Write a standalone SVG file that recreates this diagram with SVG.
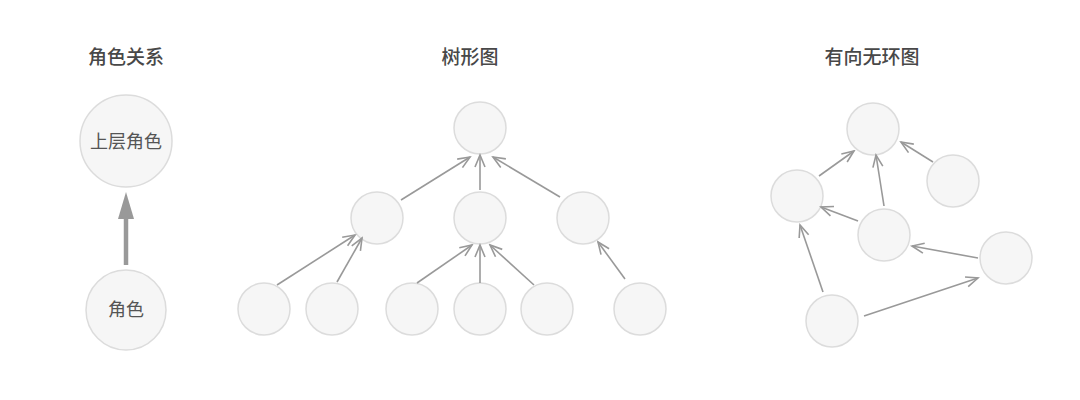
<svg xmlns="http://www.w3.org/2000/svg" width="1080" height="400" viewBox="0 0 1080 400">
<defs>
<style>
.title{font-family:"Noto Sans CJK SC","Noto Sans",sans-serif;font-size:19px;font-weight:500;fill:#484848;text-anchor:middle}
.lbl{font-family:"Noto Sans CJK SC","Noto Sans",sans-serif;font-size:18px;fill:#555;text-anchor:middle}
.n{fill:#f6f6f6;stroke:#dcdcdc;stroke-width:1.5}
.e{stroke:#999;stroke-width:1.6;fill:none;marker-end:url(#ah)}
</style>
<marker id="ah" viewBox="-14 -7 16 14" refX="0" refY="0" markerWidth="16" markerHeight="14" markerUnits="userSpaceOnUse" orient="auto">
<path d="M-12,-5 L0,0 L-12,5" fill="none" stroke="#999" stroke-width="1.6"/>
</marker>
</defs>
<rect width="1080" height="400" fill="#fff"/>
<text class="title" x="126" y="64">角色关系</text>
<text class="title" x="470" y="64">树形图</text>
<text class="title" x="872" y="64">有向无环图</text>

<g id="role-upper"><circle class="n" cx="126" cy="141" r="46"/><text class="lbl" x="126" y="148">上层角色</text></g>
<g id="role"><circle class="n" cx="126" cy="310" r="40"/><text class="lbl" x="126" y="316">角色</text></g>

<g id="t0"><circle class="n" cx="480" cy="128" r="26"/></g>
<g id="t1"><circle class="n" cx="377" cy="218" r="26"/></g>
<g id="t2"><circle class="n" cx="480" cy="218" r="26"/></g>
<g id="t3"><circle class="n" cx="583" cy="218" r="26"/></g>
<g id="t4"><circle class="n" cx="264" cy="309" r="26"/></g>
<g id="t5"><circle class="n" cx="332" cy="309" r="26"/></g>
<g id="t6"><circle class="n" cx="412" cy="309" r="26"/></g>
<g id="t7"><circle class="n" cx="480" cy="309" r="26"/></g>
<g id="t8"><circle class="n" cx="547" cy="309" r="26"/></g>
<g id="t9"><circle class="n" cx="640" cy="309" r="26"/></g>

<g id="d0"><circle class="n" cx="873" cy="129" r="26"/></g>
<g id="d1"><circle class="n" cx="953" cy="181" r="26"/></g>
<g id="d2"><circle class="n" cx="797" cy="196" r="26"/></g>
<g id="d3"><circle class="n" cx="884" cy="235" r="26"/></g>
<g id="d4"><circle class="n" cx="1006" cy="258" r="26"/></g>
<g id="d5"><circle class="n" cx="832" cy="321" r="26"/></g>

<g id="connectors">
<line x1="126" y1="265" x2="126" y2="216" stroke="#999" stroke-width="4.5"/>
<polygon points="126,192 118,219 134,219" fill="#999"/>

<line class="e" x1="401" y1="200" x2="470" y2="157"/>
<line class="e" x1="480" y1="190" x2="480" y2="155"/>
<line class="e" x1="560" y1="197" x2="493" y2="157"/>
<line class="e" x1="277" y1="285" x2="355" y2="235"/>
<line class="e" x1="337" y1="282" x2="362" y2="238"/>
<line class="e" x1="417" y1="283" x2="472" y2="245"/>
<line class="e" x1="480" y1="283" x2="480" y2="245"/>
<line class="e" x1="534" y1="285" x2="490" y2="245"/>
<line class="e" x1="625" y1="279" x2="598" y2="242"/>

<line class="e" x1="819" y1="176" x2="854" y2="151"/>
<line class="e" x1="884" y1="206" x2="876" y2="155"/>
<line class="e" x1="933" y1="162" x2="901" y2="142"/>
<line class="e" x1="858" y1="221" x2="821" y2="207"/>
<line class="e" x1="978" y1="258" x2="912" y2="246"/>
<line class="e" x1="823" y1="292" x2="800" y2="225"/>
<line class="e" x1="864" y1="316" x2="978" y2="278"/>
</g>
</svg>
